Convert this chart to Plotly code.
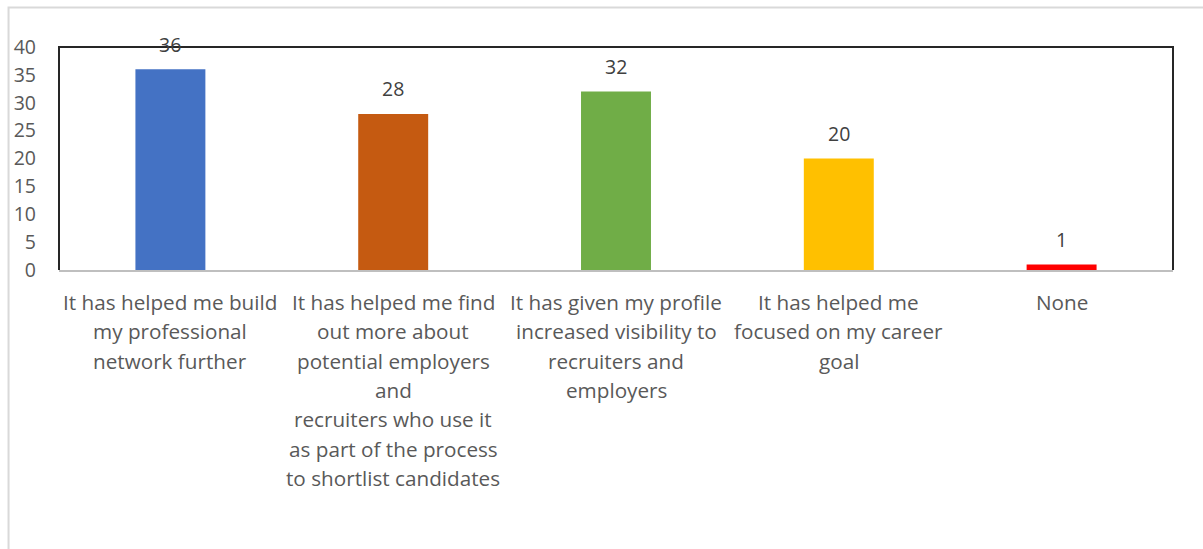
import plotly.graph_objects as go

# Survey responses
categories = ["build_network", "find_employers", "visibility", "career_goal", "none"]
label_lines = [
    ["It has helped me build", "my professional", "network further"],
    ["It has helped me find", "out more about", "potential employers", "and",
     "recruiters who use it", "as part of the process", "to shortlist candidates"],
    ["It has given my profile", "increased visibility to", "recruiters and", "employers"],
    ["It has helped me", "focused on my career", "goal"],
    ["None"],
]
counts = [36, 28, 32, 20, 1]
bar_colors = ["#4472C4", "#C55A11", "#70AD47", "#FFC000", "#FF0000"]

y_ticks = [0, 5, 10, 15, 20, 25, 30, 35, 40]

FONT = "Open Sans"
TEXT_GREY = "#595959"
LABEL_SIZE = 20.7
TICK_SIZE = 19.5
LINE_STEP = 29.3

fig = go.Figure(
    go.Bar(
        x=categories,
        y=counts,
        marker=dict(color=bar_colors, line=dict(width=0)),
        width=0.314,
        hoverinfo="x+y",
    )
)

annotations = []
# value labels above each bar
for cat, val in zip(categories, counts):
    annotations.append(dict(
        x=cat, y=val, xref="x", yref="y", text=str(val), showarrow=False,
        yanchor="middle", yshift=25,
        font=dict(family=FONT, size=TICK_SIZE, color="#404040"),
    ))
# wrapped category labels under the axis
for cat, lines in zip(categories, label_lines):
    for j, line in enumerate(lines):
        annotations.append(dict(
            x=cat, y=0, xref="x", yref="paper", text=line, showarrow=False,
            xanchor="center", yanchor="middle", yshift=-(32 + j * LINE_STEP),
            font=dict(family=FONT, size=LABEL_SIZE, color=TEXT_GREY),
        ))

shapes = [
    # outer chart frame
    dict(type="rect", xref="paper", yref="paper",
         x0=-0.0453, x1=1.2, y0=-1.5, y1=1.1775,
         line=dict(color="#D9D9D9", width=2), layer="below"),
    # plot area frame (left, top, right)
    dict(type="path", xref="paper", yref="paper",
         path="M 0,0 L 0,1 L 1,1 L 1,0",
         line=dict(color="#262626", width=2), layer="above"),
]

fig.update_layout(
    width=1203, height=549,
    margin=dict(l=59, r=30, t=47, b=279),
    paper_bgcolor="white", plot_bgcolor="white",
    showlegend=False,
    font=dict(family=FONT, size=LABEL_SIZE, color=TEXT_GREY),
    annotations=annotations,
    shapes=shapes,
    xaxis=dict(
        showticklabels=False, ticks="", showgrid=False, zeroline=False,
        showline=True, linecolor="#BFBFBF", linewidth=2,
    ),
    yaxis=dict(
        range=[0, 40], tickvals=y_ticks, ticks="", showgrid=False,
        zeroline=False, showline=False, ticklabelstandoff=22,
        tickfont=dict(family=FONT, size=TICK_SIZE, color=TEXT_GREY),
    ),
)

fig.write_html("out.html")
